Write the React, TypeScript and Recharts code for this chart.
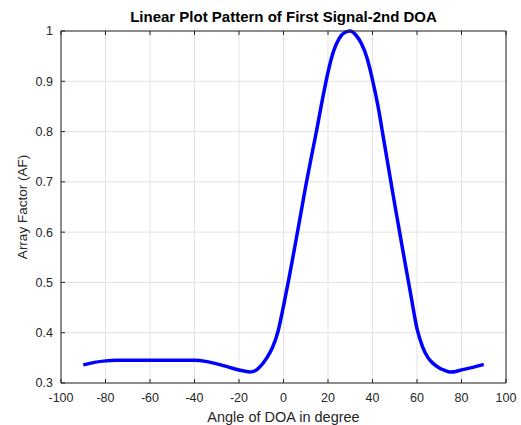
import React from 'react';
import { LineChart, Line, XAxis, YAxis, CartesianGrid } from 'recharts';

// angle of arrival (degrees) and normalised array factor
const angles = [
  -90, -85, -80, -75, -70, -65, -60, -55, -50, -45, -40, -35, -30, -25, -20, -15, -12.5, -10, -7.5,
  -5, -2.5, 0, 2.5, 5, 7.5, 10, 12.5, 15, 17.5, 20, 22.5, 25, 27.5, 30, 32.5, 35, 37.5, 40, 42.5,
  45, 47.5, 50, 52.5, 55, 57.5, 60, 62.5, 65, 67.5, 70, 72.5, 75, 77.5, 80, 85, 90,
];
const arrayFactor = [
  0.336, 0.341, 0.344, 0.345, 0.345, 0.345, 0.345, 0.345, 0.345, 0.345, 0.345, 0.343, 0.338, 0.332,
  0.326, 0.322, 0.325, 0.335, 0.35, 0.37, 0.402, 0.453, 0.509, 0.569, 0.63, 0.692, 0.749, 0.805,
  0.864, 0.918, 0.96, 0.985, 0.997, 1.0, 0.992, 0.975, 0.947, 0.903, 0.85, 0.785, 0.72, 0.655, 0.592,
  0.53, 0.468, 0.408, 0.372, 0.35, 0.338, 0.33, 0.325, 0.322, 0.323, 0.326, 0.331, 0.337,
];
const xTicks = [-100, -80, -60, -40, -20, 0, 20, 40, 60, 80, 100];
const yTicks = [0.3, 0.4, 0.5, 0.6, 0.7, 0.8, 0.9, 1];

const title = 'Linear Plot Pattern of First Signal-2nd DOA';
const xLabel = 'Angle of DOA in degree';
const yLabel = 'Array Factor (AF)';

const data = angles.map((a, i) => ({ angle: a, af: arrayFactor[i] }));

const FONT = '"Liberation Sans", Arial, Helvetica, sans-serif';
const INK = '#262626';

const App: React.FC = () => {
  return (
    <div style={{ position: 'absolute', left: 0, top: 0, width: 521, height: 425, background: '#fff', fontFamily: FONT }}>
      <LineChart width={521} height={425} data={data} margin={{ top: 30, right: 14, bottom: 0, left: 0 }}>
        <CartesianGrid stroke="#e3e3e3" strokeWidth={1} />
        <XAxis
          dataKey="angle"
          type="number"
          domain={[-100, 100]}
          ticks={xTicks}
          height={42}
          tickSize={-4}
          tickMargin={14}
          tick={{ fontSize: 12.5, fill: INK, fontFamily: FONT }}
          axisLine={{ stroke: INK }}
          tickLine={{ stroke: INK }}
          label={{ value: xLabel, position: 'insideBottom', offset: 3, fill: INK, fontSize: 14.5, fontFamily: FONT }}
        />
        {/* box: top and right axes with inward ticks only */}
        <XAxis
          xAxisId="top"
          dataKey="angle"
          type="number"
          orientation="top"
          domain={[-100, 100]}
          ticks={xTicks}
          height={1}
          tickSize={-4}
          tickFormatter={() => ''}
          axisLine={{ stroke: INK }}
          tickLine={{ stroke: INK }}
        />
        <YAxis
          type="number"
          domain={[0.3, 1]}
          ticks={yTicks}
          width={61}
          tickSize={-4}
          tickMargin={12}
          tick={{ fontSize: 12.5, fill: INK, fontFamily: FONT }}
          axisLine={{ stroke: INK }}
          tickLine={{ stroke: INK }}
          label={{ value: yLabel, angle: -90, position: 'insideLeft', offset: 22, textAnchor: 'middle', fill: INK, fontSize: 13.5, fontFamily: FONT }}
        />
        <YAxis
          yAxisId="right"
          type="number"
          orientation="right"
          domain={[0.3, 1]}
          ticks={yTicks}
          width={1}
          tickSize={-4}
          tickFormatter={() => ''}
          axisLine={{ stroke: INK }}
          tickLine={{ stroke: INK }}
        />
        <Line
          type="monotone"
          dataKey="af"
          stroke="#0000ff"
          strokeWidth={3.5}
          dot={false}
          isAnimationActive={false}
        />
      </LineChart>
      <svg width={521} height={30} style={{ position: 'absolute', left: 0, top: 0 }}>
        <text x={283.5} y={22} textAnchor="middle" fontSize={15} fontWeight="bold" fill="#000" fontFamily={FONT}>
          {title}
        </text>
      </svg>
    </div>
  );
};

export default App;
